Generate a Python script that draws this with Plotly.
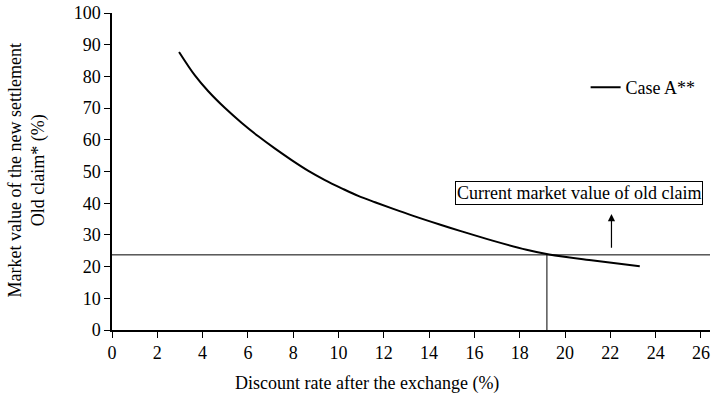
import plotly.graph_objects as go

# Case A: market value of the new settlement relative to the old claim (%)
discount_rate = [2.96, 3.66, 4.25, 4.99, 5.73, 6.46, 7.2, 7.93, 8.67, 9.4, 10.14, 10.87,
                 11.61, 12.42, 13.3, 14.5, 15.4, 16.8, 18.3, 19.3, 21.25, 23.3]
market_value = [87.7, 80.3, 75.3, 70.0, 65.3, 61.1, 57.2, 53.6, 50.2, 47.3, 44.7, 42.3,
                40.3, 38.2, 36.0, 33.2, 31.2, 28.2, 25.3, 23.8, 21.9, 20.1]

old_claim_value = 23.7      # current market value of old claim (%)
breakeven_rate = 19.2       # discount rate where the curve meets it
arrow_rate = 22.05

x_ticks = list(range(0, 27, 2))
y_ticks = list(range(0, 101, 10))

FONT = "Liberation Serif"

fig = go.Figure()

fig.add_trace(go.Scatter(
    x=discount_rate, y=market_value, mode="lines", name="Case A**",
    line=dict(color="black", width=2, shape="spline", smoothing=1.0),
))

# horizontal reference at the old claim's market value
fig.add_trace(go.Scatter(
    x=[0, 26.4], y=[old_claim_value, old_claim_value], mode="lines",
    line=dict(color="black", width=1), showlegend=False, hoverinfo="skip",
))
# vertical drop at the break-even discount rate
fig.add_trace(go.Scatter(
    x=[breakeven_rate, breakeven_rate], y=[0, old_claim_value], mode="lines",
    line=dict(color="black", width=1), showlegend=False, hoverinfo="skip",
))

# arrow pointing to the label box
fig.add_annotation(
    x=arrow_rate, y=36.6, ax=arrow_rate, ay=25.5,
    xref="x", yref="y", axref="x", ayref="y",
    showarrow=True, arrowhead=2, arrowsize=1.2, arrowwidth=1.2, arrowcolor="black", text="",
)

fig.add_annotation(
    x=20.6, y=43.1, xref="x", yref="y", text="Current market value of old claim",
    showarrow=False, font=dict(family=FONT, size=18, color="black"),
    bordercolor="black", borderwidth=1, borderpad=1, bgcolor="white",
    xanchor="center", yanchor="middle",
)

# axis titles
fig.add_annotation(
    x=-0.143, y=0.505, xref="paper", yref="paper",
    text="Market value of the new settlement<br>Old claim* (%)",
    textangle=-90, showarrow=False, align="center",
    font=dict(family=FONT, size=18, color="black"),
    xanchor="center", yanchor="middle",
)
fig.add_annotation(
    x=0.426, y=-0.168, xref="paper", yref="paper",
    text="Discount rate after the exchange (%)", showarrow=False,
    font=dict(family=FONT, size=18, color="black"),
    xanchor="center", yanchor="middle",
)

axis_common = dict(
    showgrid=False, zeroline=False, showline=True, linecolor="black", linewidth=1.5,
    ticks="outside", ticklen=6, tickwidth=1.2, tickcolor="black",
    tickfont=dict(family=FONT, size=18, color="black"),
)

fig.update_layout(
    width=712, height=394,
    margin=dict(l=112, r=2, t=13, b=64),
    plot_bgcolor="white", paper_bgcolor="white",
    xaxis=dict(range=[0, 26.4], tickvals=x_ticks, **axis_common),
    yaxis=dict(range=[0, 100], tickvals=y_ticks, **axis_common),
    legend=dict(
        x=0.792, y=0.765, xanchor="left", yanchor="middle",
        font=dict(family=FONT, size=18, color="black"),
        bgcolor="rgba(0,0,0,0)", itemwidth=30,
    ),
    showlegend=True,
)

fig.write_html("out.html")
